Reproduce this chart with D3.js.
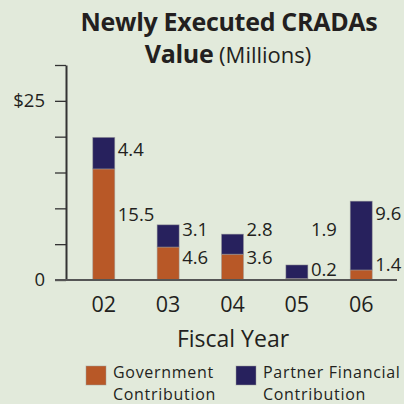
<!DOCTYPE html>
<html>
<head>
<meta charset="utf-8">
<script src="https://cdn.jsdelivr.net/npm/d3@7"></script>
<style>
  body { margin: 0; background: #e2eadb; }
  svg { display: block; font-family: "Open Sans", sans-serif; }
</style>
</head>
<body>
<script>
// data
var years = ["02", "03", "04", "05", "06"];
var government = [15.5, 4.6, 3.6, 0.2, 1.4];
var partner = [4.4, 3.1, 2.8, 1.9, 9.6];
var yTicks = [0, 5, 10, 15, 20, 25, 30];
var yTickLabels = {0: "0", 25: "$25"};
var seriesNames = ["Government\nContribution", "Partner Financial\nContribution"];
var colors = ["#b85827", "#27215d"];

var width = 404, height = 404;

var svg = d3.select("body").append("svg")
  .attr("width", width)
  .attr("height", height);

// 表格数据，给 stack 用
var rows = years.map(function (y, i) {
  return {year: y, gov: government[i], partner: partner[i]};
});
var stacked = d3.stack().keys(["gov", "partner"])(rows);

var x = d3.scaleBand().domain(years).range([67, 398]).paddingInner(0.658).paddingOuter(0.4);
var y = d3.scaleLinear().domain([0, 30]).range([280, 65]);

// 标题
svg.append("text")
  .attr("x", 229)
  .attr("y", 31)
  .attr("text-anchor", "middle")
  .style("font-size", "25px")
  .style("font-weight", "bold")
  .style("letter-spacing", "-0.3px")
  .style("fill", "#231f20")
  .text("Newly Executed CRADAs");
var sub = svg.append("text")
  .attr("x", 228)
  .attr("y", 63)
  .attr("text-anchor", "middle")
  .style("fill", "#231f20");
sub.append("tspan").style("font-size", "25px").style("font-weight", "bold").style("letter-spacing", "-0.3px").text("Value");
sub.append("tspan").style("font-size", "22px").text(" (Millions)");

// y 轴
var yAxis = svg.append("g")
  .attr("transform", "translate(66,0)")
  .call(d3.axisLeft(y).tickValues(yTicks).tickSize(11).tickSizeOuter(0)
    .tickFormat(function (d) { return yTickLabels[d] || ""; }));
yAxis.select(".domain").attr("stroke", "#333").attr("stroke-width", 2);
yAxis.selectAll(".tick line").attr("stroke", "#333").attr("stroke-width", 1.3);
yAxis.selectAll(".tick text")
  .attr("x", -21)
  .style("font-size", "18.5px")
  .style("font-family", "Open Sans, sans-serif")
  .style("fill", "#231f20");

// 柱子
svg.append("g").selectAll("g")
  .data(stacked)
  .enter().append("g")
  .attr("fill", function (d, i) { return colors[i]; })
  .selectAll("rect")
  .data(function (d) { return d; })
  .enter().append("rect")
  .attr("x", function (d) { return x(d.data.year); })
  .attr("width", x.bandwidth())
  .attr("y", function (d) { return y(d[1]); })
  .attr("height", function (d) { return y(d[0]) - y(d[1]); })
  .attr("stroke", "#9c9c9c")
  .attr("stroke-opacity", 0.6)
  .attr("stroke-width", 0.8);

// 基线
svg.append("line")
  .attr("x1", 55).attr("x2", 397)
  .attr("y1", y(0)).attr("y2", y(0))
  .attr("stroke", "#555")
  .attr("stroke-width", 2);

// 数值标签：partner 放在顶部附近，gov 放在下面
var fmt = d3.format(".1f");
rows.forEach(function (r) {
  var lx = x(r.year) + x.bandwidth() + 3;
  var top = y(r.gov + r.partner);
  var pY = Math.min(top + 12, y(7));
  var gY = Math.max(pY + 28, (y(0) + y(r.gov)) / 2 - 10);
  [[r.partner, pY], [r.gov, gY]].forEach(function (p) {
    svg.append("text")
      .attr("x", lx)
      .attr("y", p[1])
      .attr("dy", "0.35em")
      .style("font-size", "18.5px")
      .style("fill", "#231f20")
      .text(fmt(p[0]));
  });
});

// x 轴标签
var xAxis = svg.append("g")
  .attr("transform", "translate(0,292)")
  .call(d3.axisBottom(x).tickSize(0));
xAxis.select(".domain").remove();
xAxis.selectAll(".tick text")
  .attr("y", 0)
  .attr("dy", "0.92em")
  .style("font-size", "21.5px")
  .style("font-family", "Open Sans, sans-serif")
  .style("fill", "#231f20");

svg.append("text")
  .attr("x", 233)
  .attr("y", 347)
  .attr("text-anchor", "middle")
  .style("font-size", "23px")
  .style("fill", "#231f20")
  .text("Fiscal Year");

// 图例
var legendX = [86, 236];
var legend = svg.append("g").selectAll("g")
  .data(seriesNames)
  .enter().append("g")
  .attr("transform", function (d, i) { return "translate(" + legendX[i] + ",366)"; });
legend.append("rect")
  .attr("width", 20).attr("height", 19)
  .attr("fill", function (d, i) { return colors[i]; })
  .attr("stroke", "#9c9c9c")
  .attr("stroke-opacity", 0.6)
  .attr("stroke-width", 0.8);
legend.each(function (d) {
  var g = d3.select(this);
  d.split("\n").forEach(function (line, i) {
    g.append("text")
      .attr("x", 27)
      .attr("y", 12 + i * 22)
      .style("font-size", "16px")
      .style("letter-spacing", "0.7px")
      .style("fill", "#231f20")
      .text(line);
  });
});
</script>
</body>
</html>
